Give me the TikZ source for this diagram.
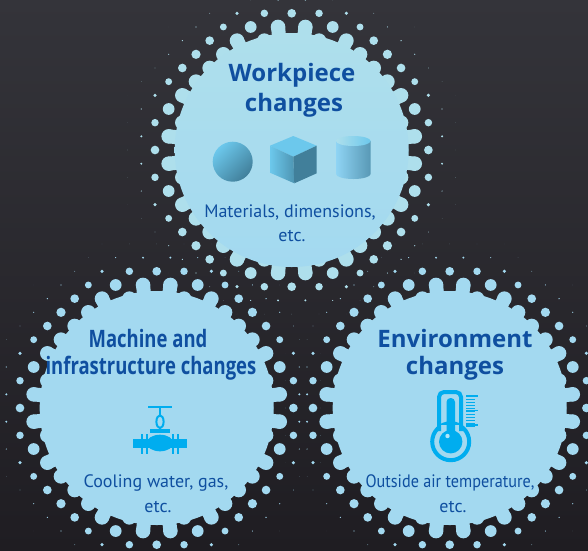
\documentclass[tikz,border=0pt]{standalone}
\usepackage{fontspec}
\setmainfont{PT Sans}
\newfontfamily\headfont{Open Sans}
\usepackage{tikz}
\definecolor{darkbg}{HTML}{1F1D22}
\definecolor{greybg}{HTML}{34343A}
\definecolor{bluetop}{HTML}{AEDFEC}
\definecolor{blueleft}{HTML}{A3D9F0}
\definecolor{titleblue}{HTML}{0F4FA0}
\definecolor{iconblue}{HTML}{00ADEF}
\definecolor{solidlight}{HTML}{6CC8EC}
\definecolor{solidpale}{HTML}{8FD4F4}
\definecolor{soliddark}{HTML}{417F9A}
\tikzset{
  title/.style={text=titleblue, font=\headfont\bfseries\fontsize{24}{24}\selectfont, inner sep=0pt},
  subtitle/.style={text=titleblue, font=\fontsize{18}{18}\selectfont, inner sep=0pt},
  disc/.style={circle, minimum size=234pt, inner sep=0pt}
}
% disc edge and halftone dots: centre x, centre y, colour
\newcommand{\halftone}[3]{
  \foreach \k in {-13,...,13} {
    \foreach \j in {-13,...,13} {
      \pgfmathparse{int(mod(abs(\k+\j),2))}
      \ifnum\pgfmathresult=0
        \pgfmathsetmacro{\dist}{13.67*veclen(\k,\j)}
        \pgfmathparse{(\dist>105 && \dist<175) ? 1 : 0}
        \ifnum\pgfmathresult>0
          \pgfmathsetmacro{\rad}{\dist<127 ? 7.3 : (\dist<147 ? 5.8-0.22*(\dist-130) : 1.8*exp(-(\dist-147)/8))}
          \fill[#3] ({#1+13.67*\k},{#2+13.67*\j}) circle (\rad);
          \ifdim\dist pt<127pt
            \draw[#3, line width=14pt] ({#1+13.67*\k},{#2+13.67*\j}) -- ({#1+12*\k},{#2+12*\j});
          \fi
        \fi
      \fi
    }
  }
}
\begin{document}
\begin{tikzpicture}[x=1pt,y=-1pt]
\useasboundingbox (0,0) rectangle (588,550);
\shade[top color=greybg, bottom color=darkbg] (0,0) rectangle (588,550);

\halftone{291.7}{150}{bluetop}
\halftone{156.7}{408}{blueleft}
\halftone{449.7}{408}{blueleft}
\node[disc, top color=bluetop, bottom color=blueleft] (topdisc) at (291.7,150) {};
\node[disc, fill=blueleft] (leftdisc) at (156.7,408) {};
\node[disc, fill=blueleft] (rightdisc) at (449.7,408) {};

% top circle
\node[title] (work) at (292,75) {Workpiece};
\node[title] (workb) at (294,105) {changes};
\node[subtitle] (mat) at (290,212) {Materials, dimensions,};
\node[subtitle] (matb) at (292,236) {etc.};
\shade[top color=solidlight, bottom color=soliddark, shading angle=45] (232.7,161.7) circle (20);
\fill[solidlight] (270,145.7) -- (293.3,136) -- (316.7,145.7) -- (293.3,156.7) -- cycle;
\shade[left color=solidlight, right color=soliddark!70!solidlight] (270,145.7) -- (293.3,156.7) -- (294.3,183.3) -- (270,172.7) -- cycle;
\fill[soliddark] (293.3,156.7) -- (316.7,145.7) -- (316.7,173.3) -- (294.3,183.3) -- cycle;
\shade[left color=solidpale, middle color=solidpale, right color=soliddark!70!solidpale] (336,141) -- (336,174) arc[start angle=180, end angle=0, x radius=17.3, y radius=5] -- (370.6,141) -- cycle;
\shade[left color=bluetop, right color=solidlight] (353.3,141) ellipse (17.3 and 5);

% left circle
\node[title, xscale=.77, transform shape] (mach) at (148,338) {Machine and};
\node[title, xscale=.77, transform shape] (machb) at (151,368) {infrastructure changes};
\node[subtitle] (cool) at (156,483) {Cooling water, gas,};
\node[subtitle] (coolb) at (158,507) {etc.};
\fill[iconblue] (148.3,405.7) rectangle (171.7,407.7);
\fill[iconblue] (159,407) rectangle (161,417);
\draw[iconblue, line width=2pt] (160,421.7) ellipse (3.6 and 6.4);
\fill[iconblue] (150,429) rectangle (170,433.3);
\fill[iconblue] (133.3,439.3) rectangle (187.3,447.7);
\fill[iconblue] (160,443) ellipse (13.3 and 8.3);
\fill[iconblue] (147,441) rectangle (173,445);
\foreach \x in {141,145.7,172,176.7} {
  \fill[iconblue] (\x,433.5) rectangle ++(2.3,20);
}

% right circle
\node[title] (env) at (455,338) {Environment};
\node[title] (envb) at (455,368) {changes};
\node[subtitle, xscale=.9, transform shape] (out) at (450,483) {Outside air temperature,};
\node[subtitle] (outb) at (453,507) {etc.};
\draw[iconblue, line width=4pt] (450.7,441.7) circle (18.5);
\fill[blueleft] (441,425) rectangle (459,440);
\draw[iconblue, line width=4pt, rounded corners=5pt] (439,431) -- (439,392) -- (461,392) -- (461,431);
\fill[iconblue] (450.7,441.7) circle (11.7);
\fill[iconblue, rounded corners=4pt] (446.5,398) rectangle (455,440);
\fill[white!70!iconblue] (447.5,436) circle (2.2);
\foreach \y in {396,399,402,405,408,411,414,417,420,423,426} {
  \draw[iconblue, line width=.8pt] (466,\y) -- (475,\y);
}
\foreach \y in {396,410.5,425} {
  \draw[iconblue, line width=1.2pt] (466,\y) -- (478,\y);
}
\end{tikzpicture}
\end{document}
